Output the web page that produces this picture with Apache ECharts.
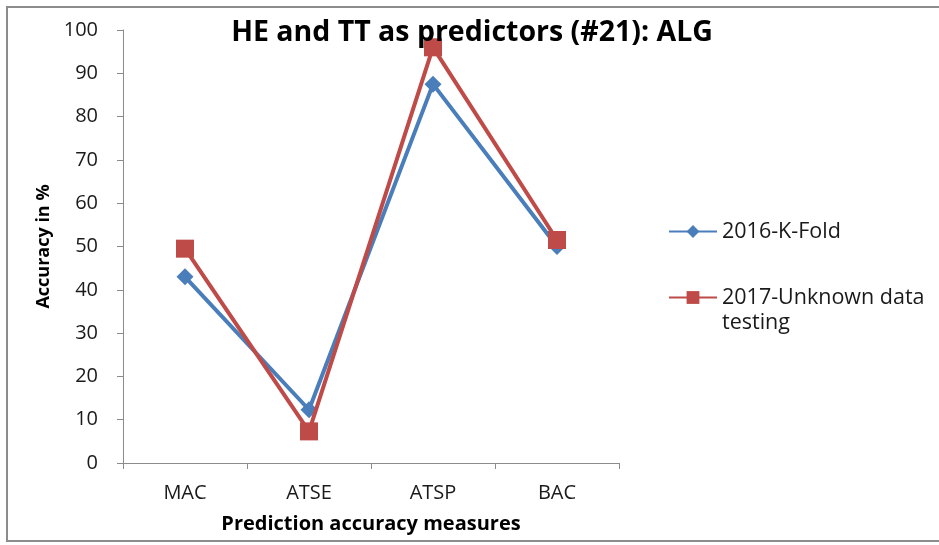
<!DOCTYPE html>
<html>
<head>
<meta charset="utf-8">
<script src="https://cdn.jsdelivr.net/npm/echarts@6/dist/echarts.min.js"></script>
<style>
  html, body { margin: 0; padding: 0; background: #fff; }
  #chart { width: 939px; height: 545px; }
</style>
</head>
<body>
<div id="chart"></div>
<script>
// Prediction accuracy of HE and TT predictors, by measure
const categories = ['MAC', 'ATSE', 'ATSP', 'BAC'];
const kFold2016 = [43, 12.3, 87.5, 50];
const unknown2017 = [49.5, 7.3, 96, 51.5];
const seriesNames = ['2016-K-Fold', '2017-Unknown data testing'];
// first legend line per series; the wrapped remainder is placed beneath it
const legendFirstLine = { '2016-K-Fold': '2016-K-Fold', '2017-Unknown data testing': '2017-Unknown data' };
const legendWrapped = 'testing';

const FONT = '"Open Sans", "Liberation Sans", sans-serif';
const LEGEND_FONT = 21.5;
const chart = echarts.init(document.getElementById('chart'), null, { renderer: 'canvas' });

chart.setOption({
  backgroundColor: '#ffffff',
  animation: false,
  title: {
    text: 'HE and TT as predictors (#21): ALG',
    left: 467,
    textAlign: 'center',
    top: 13,
    textStyle: { fontFamily: FONT, fontSize: 28.5, fontWeight: 'bold', color: '#000' }
  },
  graphic: [
    {
      type: 'rect',
      shape: { x: 7, y: 7, width: 950, height: 534 },
      style: { fill: 'none', stroke: '#8c8c8c', lineWidth: 2 },
      silent: true
    },
    {
      type: 'text',
      left: 722,
      top: 312,
      style: { text: legendWrapped, fontFamily: FONT, fontSize: LEGEND_FONT, fill: '#1a1a1a' },
      silent: true
    }
  ],
  legend: {
    orient: 'vertical',
    left: 663,
    top: 214,
    itemWidth: 48,
    itemHeight: 16,
    itemGap: 41,
    data: seriesNames,
    formatter: (name) => legendFirstLine[name],
    textStyle: { fontFamily: FONT, fontSize: LEGEND_FONT, color: '#1a1a1a', lineHeight: 25 }
  },
  grid: { left: 123, right: 320, top: 30, bottom: 82, containLabel: false },
  xAxis: {
    type: 'category',
    data: categories,
    boundaryGap: true,
    name: 'Prediction accuracy measures',
    nameLocation: 'middle',
    nameGap: 51,
    nameTextStyle: { fontFamily: FONT, fontSize: 20, fontWeight: 'bold', color: '#000' },
    axisLine: { lineStyle: { color: '#8c8c8c', width: 1 } },
    axisTick: { show: true, alignWithLabel: false, length: 6, lineStyle: { color: '#8c8c8c' } },
    axisLabel: { fontFamily: FONT, fontSize: 20, color: '#1a1a1a', margin: 20 },
    splitLine: { show: false }
  },
  yAxis: {
    type: 'value',
    min: 0,
    max: 100,
    interval: 10,
    name: 'Accuracy in %',
    nameLocation: 'middle',
    nameRotate: 90,
    nameGap: 69,
    nameTextStyle: { fontFamily: FONT, fontSize: 18, fontWeight: 'bold', color: '#000' },
    axisLine: { show: true, lineStyle: { color: '#8c8c8c', width: 1 } },
    axisTick: { show: true, length: 6, inside: false, lineStyle: { color: '#8c8c8c' } },
    axisLabel: { fontFamily: FONT, fontSize: 20, color: '#1a1a1a', margin: 25 },
    splitLine: { show: false }
  },
  series: [
    {
      name: seriesNames[0],
      type: 'line',
      data: kFold2016,
      symbol: 'diamond',
      symbolSize: 17,
      color: '#4a7ebb',
      lineStyle: { width: 4, color: '#4a7ebb' },
      itemStyle: { color: '#4a7ebb' },
      z: 2
    },
    {
      name: seriesNames[1],
      type: 'line',
      data: unknown2017,
      symbol: 'rect',
      symbolSize: 18,
      color: '#be4b48',
      lineStyle: { width: 4, color: '#be4b48' },
      itemStyle: { color: '#be4b48' },
      z: 3
    }
  ]
});
</script>
</body>
</html>
